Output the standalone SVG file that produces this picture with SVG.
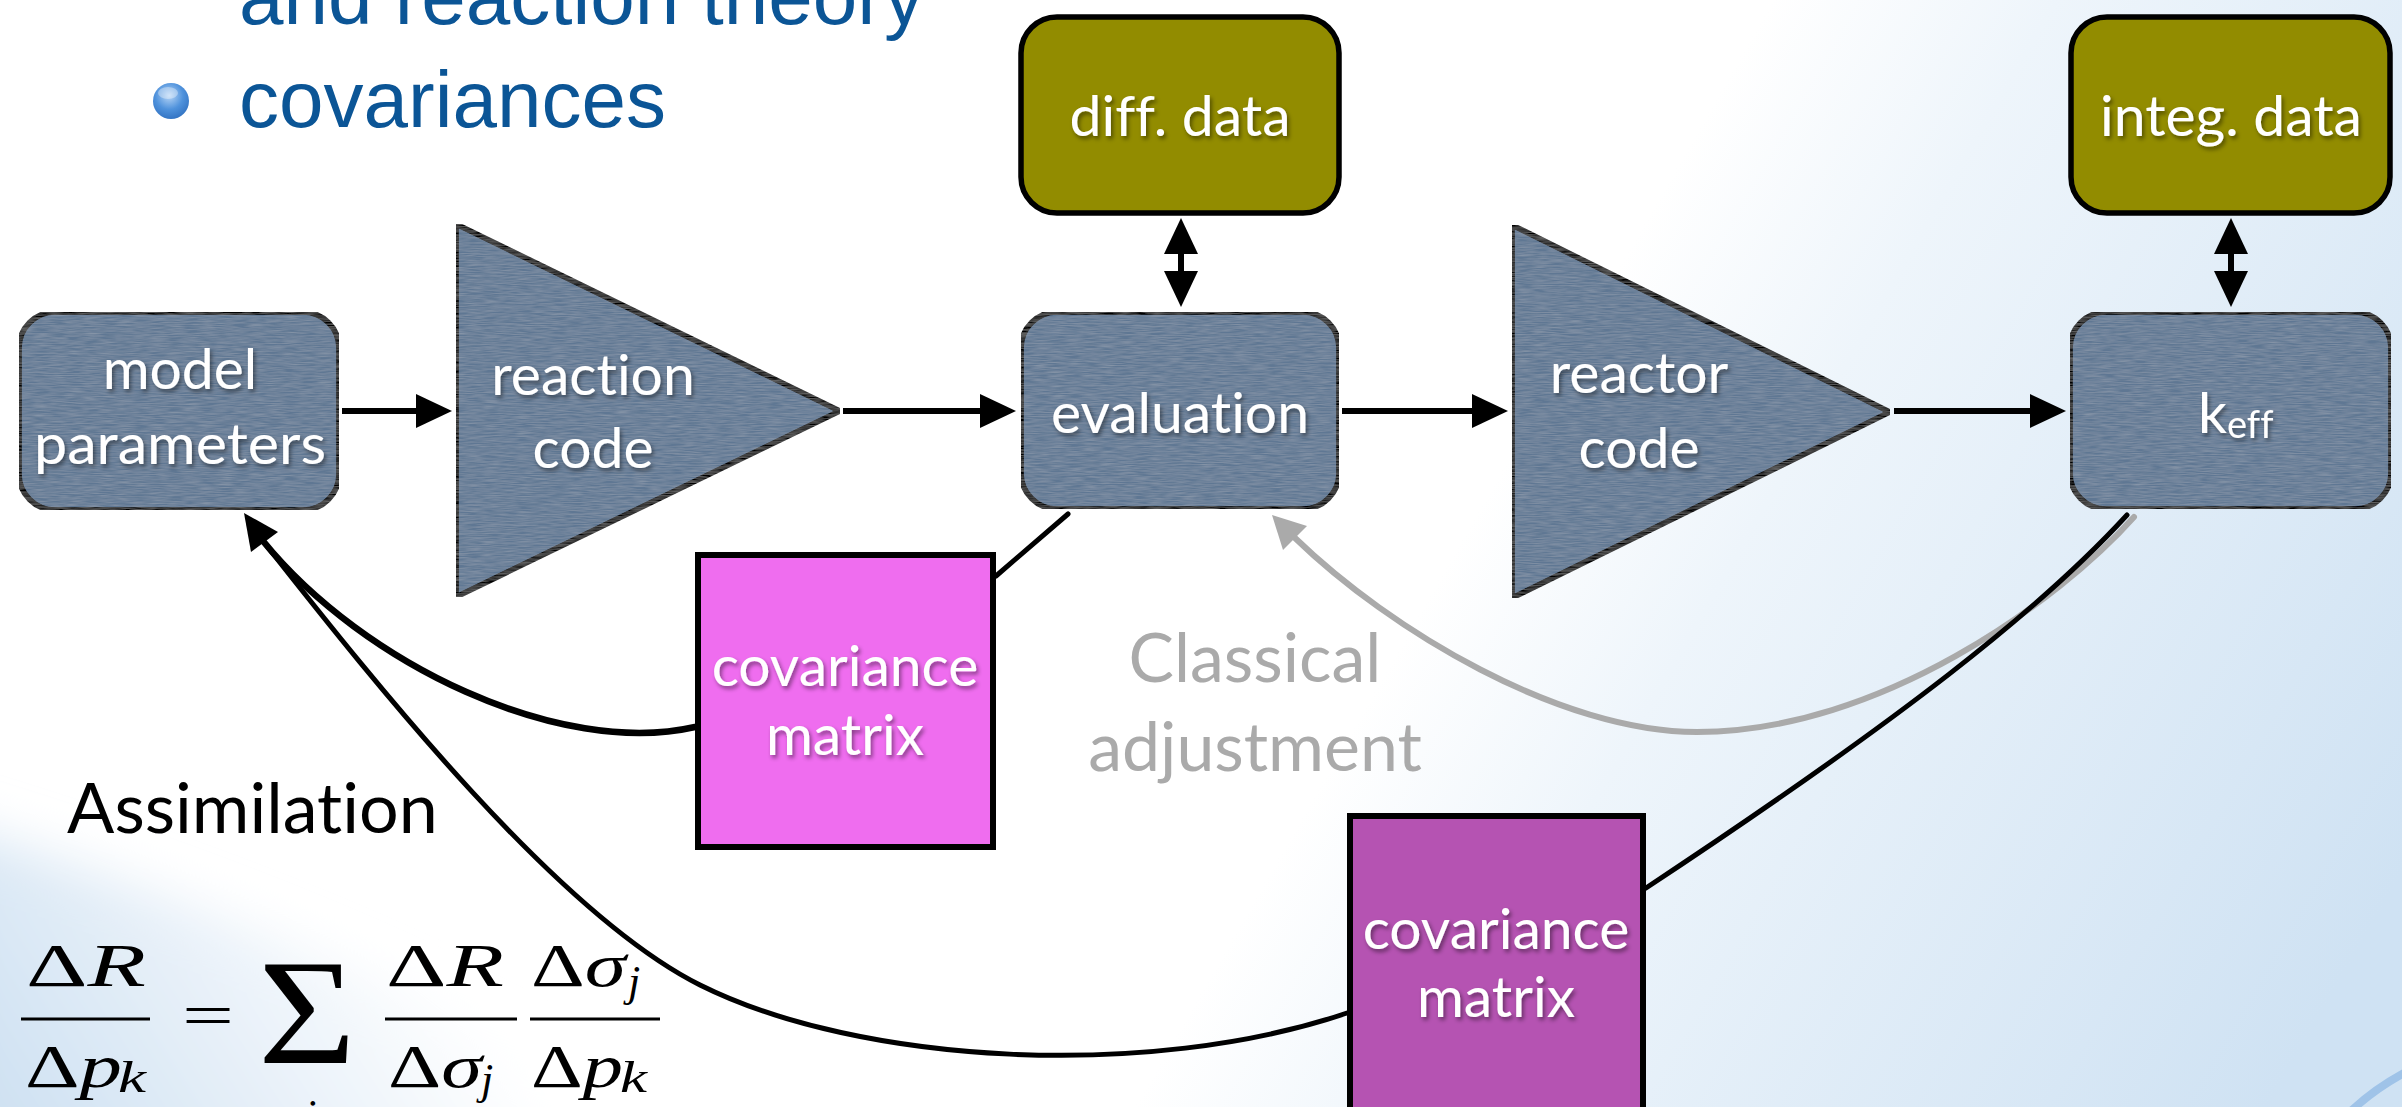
<svg xmlns="http://www.w3.org/2000/svg" width="2402" height="1107" viewBox="0 0 2402 1107">
  <style>
    text { font-variant-ligatures: none; }
    .node { fill: #5f7793; stroke: #000; stroke-width: 5.5; }
    .data { fill: #928c00; stroke: #000; stroke-width: 5.5; }
    .cov1 { fill: #ef6def; stroke: #000; stroke-width: 6; }
    .cov2 { fill: #b553b2; stroke: #000; stroke-width: 6; }
    .lbl { font-family: Lato, "Open Sans", sans-serif; font-size: 57px; fill: #fff; text-anchor: middle; }
    .bullet { font-family: "Liberation Sans", Arial, sans-serif; font-size: 80px; fill: #0b5596; }
    .arrow { stroke: #000; stroke-width: 6; fill: none; }
    .curve { fill: none; stroke-linecap: round; }
    .math { font-family: "Liberation Serif", "Times New Roman", serif; fill: #000; }
    .it { font-style: italic; }
    .sub { font-style: italic; font-size: 44px; }
    .bar { stroke: #000; stroke-width: 3; }
  </style>
  <defs>
    <marker id="head" markerUnits="userSpaceOnUse" markerWidth="36" markerHeight="34" refX="24" refY="17" orient="auto-start-reverse">
      <path d="M0,0 L36,17 L0,34 Z" fill="#000"/>
    </marker>
    <filter id="shadow" x="-10%" y="-20%" width="130%" height="150%">
      <feDropShadow dx="2" dy="3" stdDeviation="2" flood-color="#000" flood-opacity="0.45"/>
    </filter>
    <filter id="grain" x="0" y="0" width="100%" height="100%">
      <feTurbulence type="fractalNoise" baseFrequency="0.06 0.9" numOctaves="2" seed="3" result="n"/>
      <feColorMatrix in="n" type="matrix" values="0 0 0 0 1  0 0 0 0 1  0 0 0 0 1  0 0 0 0.22 -0.06" result="w"/>
      <feComposite in="w" in2="SourceGraphic" operator="in" result="t"/>
      <feMerge><feMergeNode in="SourceGraphic"/><feMergeNode in="t"/></feMerge>
    </filter>
    <filter id="soft" x="-20%" y="-20%" width="140%" height="140%">
      <feGaussianBlur stdDeviation="25"/>
    </filter>
    <linearGradient id="bgRight" gradientUnits="userSpaceOnUse" x1="1450" y1="560" x2="2300" y2="1050">
      <stop offset="0" stop-color="#ffffff"/>
      <stop offset="0.25" stop-color="#eef5fb"/>
      <stop offset="1" stop-color="#cfe2f3"/>
    </linearGradient>
    <linearGradient id="bgLeft" gradientUnits="userSpaceOnUse" x1="0" y1="1107" x2="380" y2="860">
      <stop offset="0" stop-color="#cfe1f2"/>
      <stop offset="1" stop-color="#ffffff"/>
    </linearGradient>
    <radialGradient id="ball" cx="0.45" cy="0.35" r="0.7">
      <stop offset="0" stop-color="#b7d5f6"/>
      <stop offset="0.55" stop-color="#4f92dc"/>
      <stop offset="1" stop-color="#2f6fbf"/>
    </radialGradient>
  </defs>

  <!-- slide background -->
  <rect width="2402" height="1107" fill="url(#bgRight)"/>
  <path d="M-60,820 C 200,900 470,1000 720,1170 L-60,1170 Z" fill="url(#bgLeft)" filter="url(#soft)"/>
  <path d="M2352,1110 Q2376,1088 2406,1072" stroke="#9fc3e8" stroke-width="8" fill="none"/>

  <!-- bullet list -->
  <g id="bullets">
    <text class="bullet" x="239" y="24">and reaction theory</text>
    <circle cx="171" cy="101" r="18" fill="url(#ball)"/>
    <ellipse cx="168" cy="93" rx="10" ry="6" fill="#ffffff" opacity="0.35"/>
    <text class="bullet" x="239" y="127">covariances</text>
  </g>

  <!-- connectors -->
  <g id="connectors">
    <line class="arrow" x1="342" y1="411" x2="440" y2="411" marker-end="url(#head)"/>
    <line class="arrow" x1="843" y1="411" x2="1004" y2="411" marker-end="url(#head)"/>
    <line class="arrow" x1="1342" y1="411" x2="1496" y2="411" marker-end="url(#head)"/>
    <line class="arrow" x1="1894" y1="411" x2="2054" y2="411" marker-end="url(#head)"/>
    <line class="arrow" x1="1181" y1="230" x2="1181" y2="295" marker-start="url(#head)" marker-end="url(#head)"/>
    <line class="arrow" x1="2231" y1="230" x2="2231" y2="295" marker-start="url(#head)" marker-end="url(#head)"/>

    <!-- classical adjustment loop -->
    <path class="curve" style="stroke:#aaaaaa;stroke-width:6" d="M2134,517 C 2060,600 1880,732 1697,732 C 1560,732 1390,630 1295,538"/>
    <polygon points="1272,515 1307,526 1283,550" fill="#aaaaaa"/>

    <!-- assimilation paths -->
    <line class="curve" style="stroke:#000;stroke-width:5" x1="1068" y1="514" x2="996" y2="576"/>
    <path class="curve" style="stroke:#000;stroke-width:6.5" d="M695,727 C 560,758 363,664 263,541"/>
    <path class="curve" style="stroke:#000;stroke-width:5" d="M2127,515 C 2040,610 1900,720 1646,888"/>
    <path class="curve" style="stroke:#000;stroke-width:5" d="M1347,1013 C 1150,1080 860,1065 700,985 C 560,915 380,690 263,541"/>
    <polygon points="244,513 278,532 251,552" fill="#000"/>
  </g>

  <!-- nodes -->
  <g id="model-parameters">
    <rect class="node" filter="url(#grain)" x="19" y="312" width="320" height="198" rx="36"/>
    <text class="lbl" filter="url(#shadow)" x="180" y="389">model</text>
    <text class="lbl" filter="url(#shadow)" x="180" y="464" textLength="292" lengthAdjust="spacingAndGlyphs">parameters</text>
  </g>
  <g id="reaction-code">
    <polygon class="node" filter="url(#grain)" points="456,224 456,597 840,411"/>
    <text class="lbl" filter="url(#shadow)" x="593" y="395">reaction</text>
    <text class="lbl" filter="url(#shadow)" x="593" y="468">code</text>
  </g>
  <g id="diff-data">
    <rect class="data" x="1021" y="17" width="318" height="196" rx="36"/>
    <text class="lbl" filter="url(#shadow)" x="1180" y="136">diff. data</text>
  </g>
  <g id="evaluation">
    <rect class="node" filter="url(#grain)" x="1021" y="312" width="318" height="197" rx="36"/>
    <text class="lbl" filter="url(#shadow)" x="1180" y="433">evaluation</text>
  </g>
  <g id="reactor-code">
    <polygon class="node" filter="url(#grain)" points="1512,225 1512,598 1890,412"/>
    <text class="lbl" filter="url(#shadow)" x="1639" y="393">reactor</text>
    <text class="lbl" filter="url(#shadow)" x="1639" y="468">code</text>
  </g>
  <g id="integ-data">
    <rect class="data" x="2071" y="17" width="319" height="196" rx="36"/>
    <text class="lbl" filter="url(#shadow)" x="2231" y="136">integ. data</text>
  </g>
  <g id="keff">
    <rect class="node" filter="url(#grain)" x="2070" y="312" width="321" height="197" rx="36"/>
    <text class="lbl" filter="url(#shadow)" x="2198" y="433" style="text-anchor:start">k<tspan style="font-size:38px" dy="5">eff</tspan></text>
  </g>
  <g id="covariance-matrix-1">
    <rect class="cov1" x="698" y="555" width="295" height="292"/>
    <text class="lbl" filter="url(#shadow)" x="845" y="686">covariance</text>
    <text class="lbl" filter="url(#shadow)" x="845" y="755">matrix</text>
  </g>
  <g id="covariance-matrix-2">
    <rect class="cov2" x="1350" y="816" width="293" height="300"/>
    <text class="lbl" filter="url(#shadow)" x="1496" y="949">covariance</text>
    <text class="lbl" filter="url(#shadow)" x="1496" y="1017">matrix</text>
  </g>

  <!-- free labels -->
  <g id="classical-adjustment">
    <text x="1255" y="682" style="font-family:Lato,'Open Sans',sans-serif;font-size:68px;fill:#aaaaaa;text-anchor:middle">Classical</text>
    <text x="1255" y="771" style="font-family:Lato,'Open Sans',sans-serif;font-size:68px;fill:#aaaaaa;text-anchor:middle">adjustment</text>
  </g>
  <g id="assimilation">
    <text x="67" y="833" style="font-family:Lato,'Open Sans',sans-serif;font-size:70px;fill:#000">Assimilation</text>
  </g>

  <!-- sensitivity chain rule -->
  <g id="formula" style="font-size:62px">
    <text class="math" x="26" y="986" textLength="120" lengthAdjust="spacingAndGlyphs">Δ<tspan class="it">R</tspan></text>
    <line class="bar" x1="21" y1="1019" x2="150" y2="1019"/>
    <text class="math" x="25" y="1087" textLength="97" lengthAdjust="spacingAndGlyphs">Δ<tspan class="it">p</tspan></text>
    <text class="math sub" x="118" y="1092" textLength="28" lengthAdjust="spacingAndGlyphs">k</text>

    <text class="math" x="182" y="1036" textLength="52" lengthAdjust="spacingAndGlyphs">=</text>

    <text class="math" x="258" y="1063" style="font-size:150px" textLength="98" lengthAdjust="spacingAndGlyphs">Σ</text>
    <text class="math sub" x="304" y="1130">j</text>

    <text class="math" x="386" y="986" textLength="118" lengthAdjust="spacingAndGlyphs">Δ<tspan class="it">R</tspan></text>
    <line class="bar" x1="385" y1="1019" x2="517" y2="1019"/>
    <text class="math" x="388" y="1087" textLength="94" lengthAdjust="spacingAndGlyphs">Δ<tspan class="it">σ</tspan></text>
    <text class="math sub" x="481" y="1094">j</text>

    <text class="math" x="531" y="986" textLength="95" lengthAdjust="spacingAndGlyphs">Δ<tspan class="it">σ</tspan></text>
    <text class="math sub" x="628" y="996">j</text>
    <line class="bar" x1="530" y1="1019" x2="660" y2="1019"/>
    <text class="math" x="531" y="1087" textLength="92" lengthAdjust="spacingAndGlyphs">Δ<tspan class="it">p</tspan></text>
    <text class="math sub" x="620" y="1092" textLength="27" lengthAdjust="spacingAndGlyphs">k</text>
  </g>
</svg>
